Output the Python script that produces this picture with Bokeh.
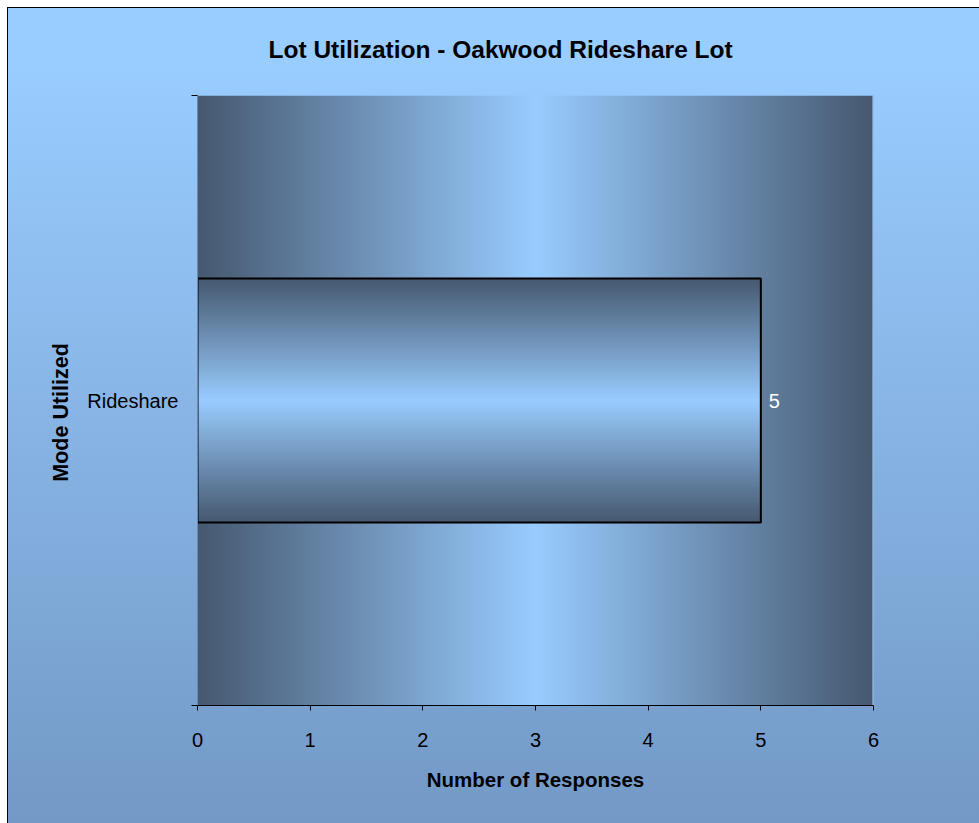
import numpy as np
from bokeh.plotting import figure
from bokeh.models import Range1d, FixedTicker, ColumnDataSource, LabelSet
from bokeh.core.properties import value
from bokeh.embed import file_html
from bokeh.resources import INLINE

# ---- data ----
categories = ["Rideshare"]
responses = [5]
x_ticks = [0, 1, 2, 3, 4, 5, 6]
title_text = "Lot Utilization - Oakwood Rideshare Lot"
x_title = "Number of Responses"
y_title = "Mode Utilized"

FONT = "Liberation Sans"
DARK = np.array([70, 89, 112])
LIGHT = np.array([153, 204, 255])

def rgba_pack(arr):
    a = np.empty(arr.shape[:2], dtype=np.uint32)
    v = a.view(dtype=np.uint8).reshape(arr.shape[0], arr.shape[1], 4)
    v[:, :, 0] = arr[:, :, 0]
    v[:, :, 1] = arr[:, :, 1]
    v[:, :, 2] = arr[:, :, 2]
    v[:, :, 3] = 255
    return a

def edge_center_gradient(n):
    t = np.linspace(-1, 1, n)
    w = 1 - np.abs(t)  # 0 at edges, 1 at center
    cols = DARK[None, :] * (1 - w[:, None]) + LIGHT[None, :] * w[:, None]
    return cols.astype(np.uint8)

ypos = [i + 0.5 for i in range(len(categories))]
bar_h = 0.4

p = figure(width=979, height=823, output_backend="svg", toolbar_location=None,
           x_range=Range1d(0, 6), y_range=Range1d(0, len(categories)),
           min_border_left=197, min_border_right=106, min_border_top=95, min_border_bottom=118)
p.styles = {"background": "linear-gradient(to bottom, #99CCFF 0%, #99CCFF 8%, #7399C6 100%)",
            "box-shadow": "inset 7px 7px 0 0 #ffffff, inset 8px 8px 0 0 #000000"}
p.border_fill_color = None
p.background_fill_color = None
p.outline_line_color = None
p.grid.visible = False

# plot-area gradient (horizontal, dark edges, light center)
g = edge_center_gradient(400)
img = rgba_pack(np.repeat(g[None, :, :], 2, axis=0))
p.image_rgba(image=[img], x=0, y=0, dw=6, dh=len(categories), level="image")

# bars with vertical gradient
gb = edge_center_gradient(300)
bimg = rgba_pack(np.repeat(gb[:, None, :], 2, axis=1))
for yv, val in zip(ypos, responses):
    p.image_rgba(image=[bimg], x=0, y=yv - bar_h / 2, dw=val, dh=bar_h)
src = ColumnDataSource(dict(y=ypos, right=responses, lab=[str(v) for v in responses]))
p.hbar(y="y", left=0, right="right", height=bar_h, source=src,
       fill_color=None, line_color="black", line_width=2)
p.add_layout(LabelSet(x="right", y="y", text="lab", source=src, x_offset=8,
                      text_baseline="middle", text_color="white",
                      text_font=value(FONT), text_font_size="20px"))

# light right edge of plot area
p.segment(x0=[6], y0=[0], x1=[6], y1=[len(categories)], line_color="#a8d4ff", line_width=2)

# title
p.title.text = title_text
p.title.align = "left"
p.title.offset = 71
p.title.text_font = FONT
p.title.text_font_size = "24.5px"
p.title.text_font_style = "bold"
p.title.text_color = "black"
p.title.standoff = 65

# x axis
xa = p.xaxis[0]
xa.ticker = FixedTicker(ticks=x_ticks)
xa.axis_label = x_title
xa.axis_label_text_font = FONT
xa.axis_label_text_font_size = "20.5px"
xa.axis_label_text_font_style = "bold"
xa.axis_label_text_color = "black"
xa.axis_label_standoff = 18
xa.major_label_text_font = FONT
xa.major_label_text_font_size = "20px"
xa.major_label_text_color = "black"
xa.major_label_standoff = 22
xa.major_tick_out = 5
xa.major_tick_in = 0
xa.minor_tick_line_color = None
xa.axis_line_color = "black"
xa.major_tick_line_color = "black"

# y axis
ya = p.yaxis[0]
ya.ticker = FixedTicker(ticks=ypos, minor_ticks=list(range(len(categories) + 1)))
ya.major_label_overrides = {yv: c for yv, c in zip(ypos, categories)}
ya.axis_label = y_title + "\u00a0" * 4
ya.axis_label_text_font = FONT
ya.axis_label_text_font_size = "21.5px"
ya.axis_label_text_font_style = "bold"
ya.axis_label_text_color = "black"
ya.axis_label_standoff = 11
ya.major_label_text_font = FONT
ya.major_label_text_font_size = "20px"
ya.major_label_text_color = "black"
ya.major_label_standoff = 13
ya.major_label_orientation = "horizontal"
ya.major_tick_out = 0
ya.major_tick_in = 0
ya.minor_tick_out = 6
ya.minor_tick_in = 0
ya.minor_tick_line_color = "black"
ya.axis_line_color = "#6a88b0"

open("out.html", "w").write(file_html(p, INLINE))
